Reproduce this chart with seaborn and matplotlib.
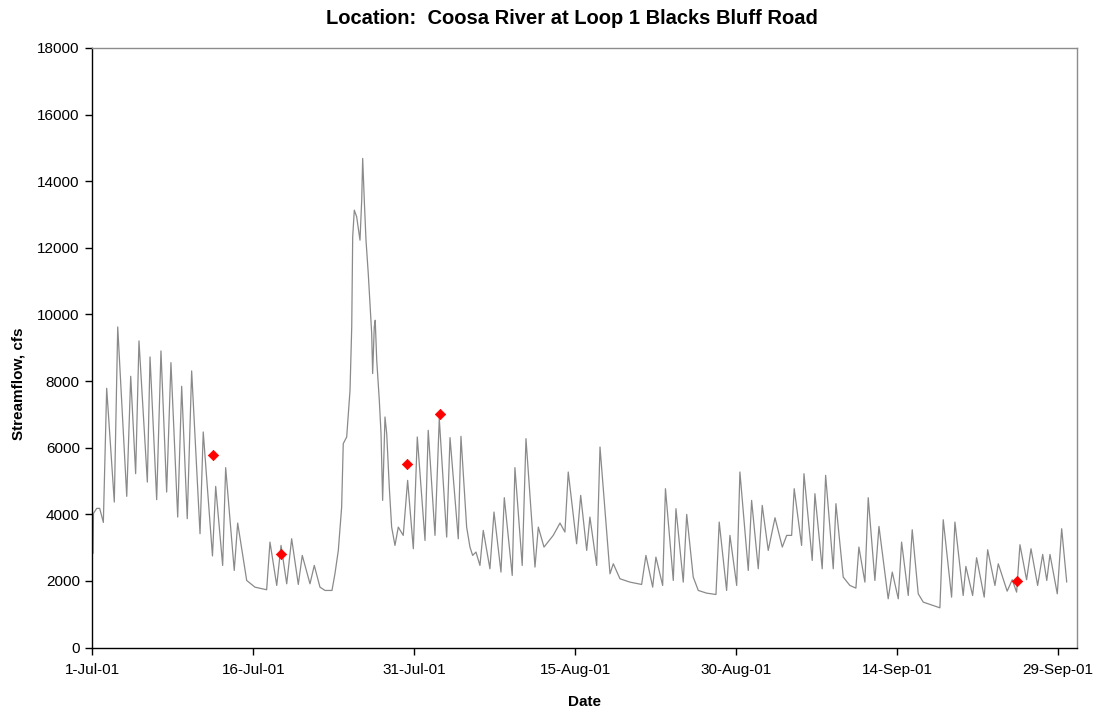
import matplotlib
matplotlib.use("Agg")
import matplotlib.pyplot as plt
import seaborn as sns
import pandas as pd

# Hourly-peaking streamflow, read as turning points: days after 1-Jul-01 00:00 and flow (cfs)
flow_day = [
    0.07, 0.11, 0.41, 0.69, 1.03, 1.34, 2.05, 2.37, 3.21, 3.58, 4.04, 4.35, 5.13, 5.38,
    6.00, 6.40, 6.93, 7.33, 7.96, 8.33, 8.85, 9.26, 10.04, 10.34, 11.20, 11.50, 12.15, 12.43,
    13.23, 13.55, 14.39, 15.16, 16.25, 16.56, 17.19, 17.59, 18.12, 18.58, 19.20, 19.57, 20.29,
    20.69, 21.22, 21.69, 22.34, 22.62, 22.93, 23.24, 23.39, 23.71, 24.02, 24.18, 24.27, 24.42,
    24.64, 24.95, 25.11, 25.20, 25.35, 25.51, 25.72, 25.95, 26.04, 26.13, 26.28, 26.37, 26.51,
    26.75, 26.91, 27.06, 27.28, 27.44, 27.68, 27.90, 28.21, 28.52, 28.98, 29.39, 29.92, 30.29,
    31.01, 31.31, 31.94, 32.34, 33.03, 33.34, 34.11, 34.36, 34.89, 35.20, 35.45, 35.76, 36.13,
    36.44, 37.06, 37.44, 38.09, 38.40, 39.14, 39.39, 40.07, 40.42, 41.26, 41.57, 42.10, 42.96,
    43.59, 44.05, 44.36, 45.14, 45.52, 46.08, 46.38, 47.01, 47.32, 48.25, 48.56, 49.18, 50.11,
    51.20, 51.60, 52.23, 52.53, 53.16, 53.42, 54.15, 54.40, 55.08, 55.40, 56.01, 56.48, 57.26,
    58.13, 58.43, 59.12, 59.43, 60.06, 60.36, 61.14, 61.45, 62.07, 62.44, 63.00, 63.63, 64.31,
    64.72, 65.18, 65.42, 66.11, 66.33, 67.10, 67.35, 68.03, 68.35, 69.06, 69.31, 69.99, 70.61,
    71.17, 71.45, 72.01, 72.32, 72.94, 73.32, 74.18, 74.56, 75.12, 75.43, 76.05, 76.42, 76.98,
    77.45, 79.00, 79.31, 80.09, 80.40, 81.17, 81.42, 82.05, 82.42, 83.13, 83.45, 84.13, 84.44,
    85.27, 85.74, 86.15, 86.46, 87.08, 87.49, 88.11, 88.58, 88.96, 89.26, 89.94, 90.35, 90.82,
]
flow_cfs = [
    2825, 4027, 4177, 4177, 3756, 7783, 4367, 9625, 4538, 8143, 5219, 9205, 4968, 8724,
    4438, 8905, 4668, 8554, 3917, 7843, 3867, 8304, 3416, 6471, 2750, 4838, 2464, 5400,
    2314, 3736, 2013, 1812, 1734, 3165, 1863, 3065, 1913, 3266, 1893, 2765, 1913,
    2464, 1812, 1713, 1713, 2224, 2915, 4216, 6121, 6321, 7723, 9625, 12330, 13132,
    12931, 12230, 13432, 14685, 13432, 12230, 11230, 9926, 9426, 8225, 9625, 9826, 8624,
    7422, 6421, 4417, 6921, 6421, 4817, 3615, 3065, 3615, 3366, 5018, 2966, 6321,
    3215, 6521, 3366, 6872, 3315, 6301, 3265, 6341, 3615, 3015, 2765, 2865, 2464,
    3516, 2364, 4067, 2264, 4498, 2164, 5400, 2464, 6271, 2414, 3615, 3015, 3366,
    3736, 3466, 5269, 3115, 4568, 2915, 3916, 2464, 6020, 2214, 2514, 2064, 1963,
    1893, 2765, 1812, 2714, 1863, 4768, 2013, 4167, 1963, 3996, 2114, 1713, 1632,
    1592, 3766, 1713, 3366, 1863, 5269, 2314, 4417, 2364, 4267, 2915, 3896, 3015,
    3366, 3366, 4768, 3065, 5219, 2614, 4618, 2364, 5169, 2364, 4318, 2114, 1863,
    1783, 3015, 1963, 4498, 2013, 3636, 1462, 2264, 1462, 3165, 1562, 3536, 1612,
    1362, 1192, 3836, 1512, 3766, 1562, 2434, 1562, 2695, 1512, 2935, 1863, 2514,
    1692, 2034, 1662, 3086, 2034, 2965, 1863, 2795, 2013, 2795, 1612, 3566, 1963,
]

# Field measurements
meas_day = [11.22, 17.59, 29.36, 32.40, 86.15]
meas_cfs = [5780, 2820, 5520, 7000, 1990]

tick_labels = ["1-Jul-01", "16-Jul-01", "31-Jul-01", "15-Aug-01", "30-Aug-01", "14-Sep-01", "29-Sep-01"]
y_ticks = [0, 2000, 4000, 6000, 8000, 10000, 12000, 14000, 16000, 18000]

start = pd.Timestamp("2001-07-01")
flow = pd.DataFrame({"Date": start + pd.to_timedelta(flow_day, unit="D"), "cfs": flow_cfs})
meas = pd.DataFrame({"Date": start + pd.to_timedelta(meas_day, unit="D"), "cfs": meas_cfs})

sns.set_style("white")
plt.rcParams["font.family"] = ["Liberation Sans", "DejaVu Sans"]
plt.rcParams["text.color"] = "black"
plt.rcParams["axes.labelcolor"] = "black"
plt.rcParams["xtick.color"] = "black"
plt.rcParams["ytick.color"] = "black"

fig = plt.figure(figsize=(10.96, 7.14), dpi=100)
ax = fig.add_axes([92.3 / 1096, 1 - 647.5 / 714, (1076.7 - 92.3) / 1096, (647.5 - 48) / 714])

sns.lineplot(data=flow, x="Date", y="cfs", ax=ax, color="#8a8a8a", linewidth=0.9)
sns.scatterplot(data=meas, x="Date", y="cfs", ax=ax, color="#ff0000", marker="D",
                s=28, edgecolor="#ff0000", linewidth=0.5, zorder=5)

ax.set_xlim(start, start + pd.Timedelta(days=91.75))
ax.set_ylim(0, 18000)
ax.set_yticks(y_ticks)
ax.set_yticklabels([str(v) for v in y_ticks])
ax.set_xticks(pd.date_range(start, periods=len(tick_labels), freq="15D"))
ax.set_xticklabels(tick_labels)

for side in ("left", "bottom"):
    ax.spines[side].set_color("black")
    ax.spines[side].set_linewidth(1.0)
for side in ("right", "top"):
    ax.spines[side].set_color("#8c8c8c")
    ax.spines[side].set_linewidth(1.0)

ax.tick_params(axis="both", direction="out", length=5, width=1, color="black",
               labelcolor="black", labelsize=11, pad=4, bottom=True, left=True)
ax.tick_params(axis="x", pad=6)

ax.set_xlabel("Date", fontsize=11, fontweight="bold", labelpad=13)
ax.set_ylabel("Streamflow, cfs", fontsize=11, fontweight="bold")
ax.yaxis.set_label_coords(-0.068, 0.44)

fig.text(572 / 1096, 1 - 18 / 714, "Location:  Coosa River at Loop 1 Blacks Bluff Road",
         ha="center", va="center", fontsize=14.5, fontweight="bold", color="black")

fig.savefig("out.png", dpi=100, facecolor="white")
